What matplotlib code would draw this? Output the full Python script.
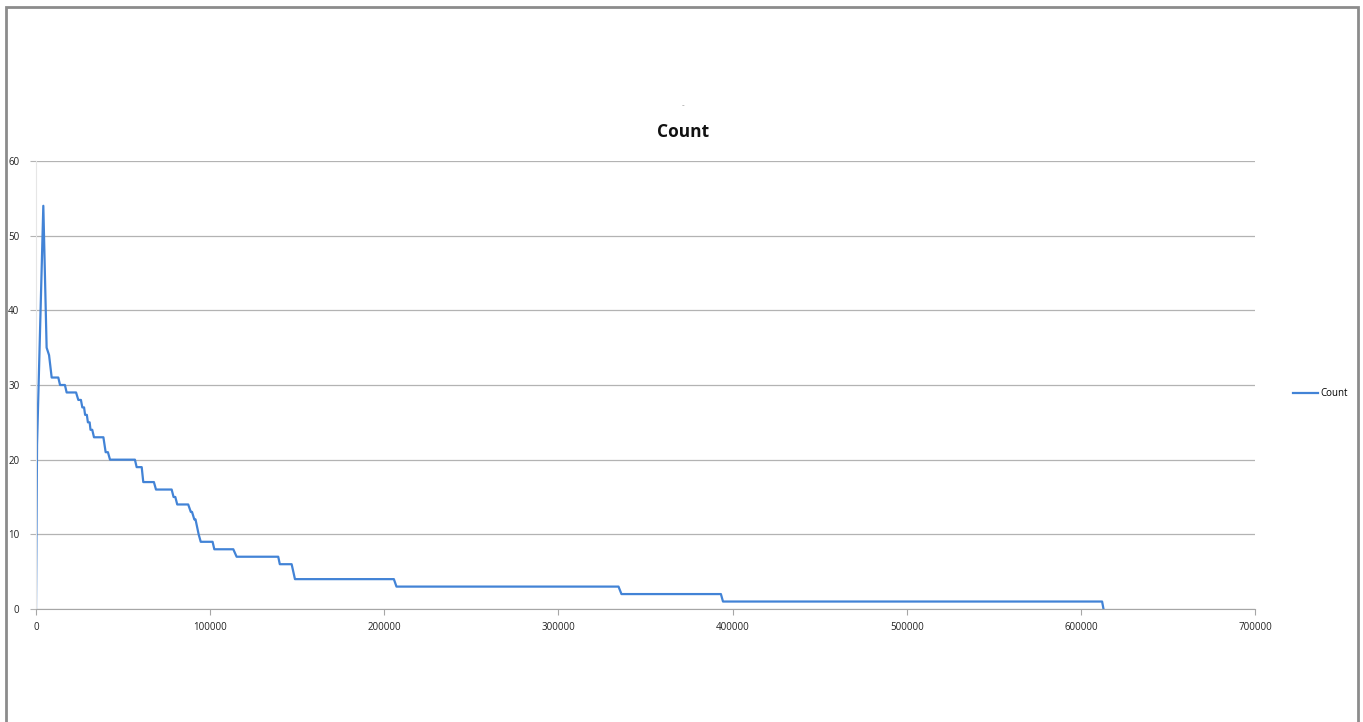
import numpy as np
import matplotlib
matplotlib.use("Agg")
import matplotlib.pyplot as plt
from matplotlib.patches import Rectangle

# vertices of the "Count" line
count_x = [0, 600, 4200, 6100, 7500, 9000, 12800, 13800, 16600, 17600, 23000,
           24300, 25800, 26600, 27600, 28200, 29200, 29800, 30800, 31300, 32300,
           33300, 38700, 40000, 41300, 42500,
           56800, 57800, 60700, 61600, 67700, 68900, 77900, 79000, 80000, 81100, 87400,
           88900, 89600, 90900, 91600, 92500, 93400, 94600, 96400, 101400, 102400,
           113300, 115200, 139100,
           140000, 146800, 148700, 205500, 207000, 334500, 336200, 393300,
           394500, 612200, 613000]
count_y = [0, 22, 54, 35, 34, 31, 31, 30, 30, 29, 29,
           28, 28, 27, 27, 26, 26, 25, 25, 24, 24,
           23, 23, 21, 21, 20,
           20, 19, 19, 17, 17, 16, 16, 15, 15, 14, 14,
           13, 13, 12, 12, 11, 10, 9, 9, 9, 8,
           8, 7, 7,
           6, 6, 4, 4, 3, 3, 2, 2,
           1, 1, 0]

x_ticks = np.arange(0, 700001, 100000)
y_ticks = np.arange(0, 61, 10)

plt.rcParams['font.family'] = ['Open Sans', 'DejaVu Sans']

W, H = 1363, 722
fig = plt.figure(figsize=(W / 100, H / 100), dpi=100)
ax = fig.add_axes([36 / W, 1 - 609 / H, (1255 - 36) / W, (609 - 161) / H])

ax.plot(count_x, count_y, color='#4283d6', lw=1.6, label='Count')

ax.set_xlim(0, 700000)
ax.set_ylim(0, 60)
ax.set_xticks(x_ticks)
ax.set_xticklabels([str(v) for v in x_ticks])
ax.set_yticks(y_ticks)

ax.grid(axis='y', color='#b3b3b3', lw=0.9)
ax.set_axisbelow(True)
for s in ['top', 'right']:
    ax.spines[s].set_visible(False)
ax.spines['left'].set_color('#e6e6e6')
ax.spines['bottom'].set_color('#a6a6a6')
ax.tick_params(axis='x', direction='out', length=4, color='#a6a6a6',
               labelsize=7, pad=5, labelcolor='#222222')
ax.tick_params(axis='y', direction='out', length=4, color='#b3b3b3',
               labelsize=7, pad=8, labelcolor='#222222')

fig.text(683 / W, 1 - 132 / H, 'Count', ha='center', va='center',
         fontsize=12.5, fontweight='bold', color='#111111')
fig.text(683 / W, 1 - 106 / H, '-', ha='center', va='center',
         fontsize=6, color='#888888')

ax.legend(loc='center left', bbox_to_anchor=(1289 / W, 1 - 394 / H),
          bbox_transform=fig.transFigure, frameon=False, fontsize=7,
          handlelength=2.6, handletextpad=0.2, borderaxespad=0)

fig.patches.append(Rectangle((6 / W, -0.02), (1352 / W), 1 - 7 / H + 0.02,
                             transform=fig.transFigure, fill=False,
                             edgecolor='#8c8c8c', lw=2))

fig.savefig('out.png', dpi=100)
